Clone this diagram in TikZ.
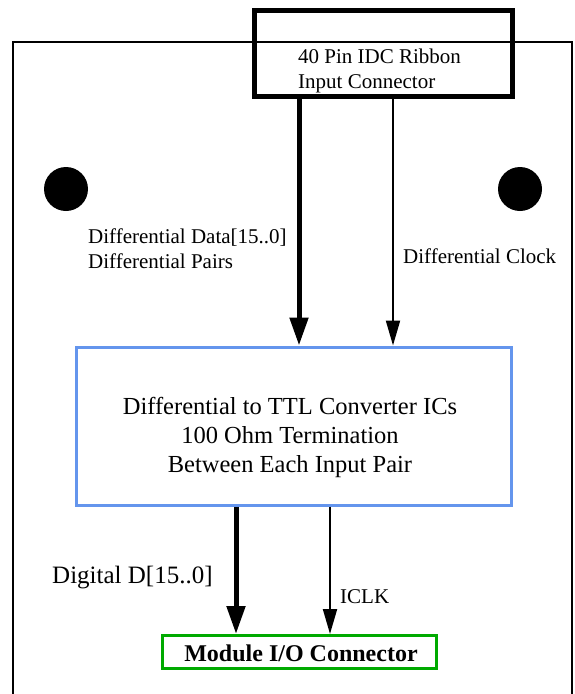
\documentclass[tikz,border=0pt]{standalone}
\usepackage{fontspec}
\setmainfont{Liberation Serif}
\usetikzlibrary{arrows.meta}
\definecolor{convblue}{RGB}{100,149,237}
\definecolor{modgreen}{RGB}{0,170,0}
\begin{document}
\begin{tikzpicture}[x=1pt,y=-1pt,
  boxnode/.style={draw, rectangle, inner sep=0pt},
  lbl/.style={inner sep=0pt, anchor=base west, align=left},
  thickarrow/.style={line width=5pt, -{Triangle[length=28pt,width=18pt]}},
  thinarrow/.style={line width=2pt, -{Triangle[length=25pt,width=14pt]}},
  hole/.style={circle, fill=black, minimum size=44pt, inner sep=0pt}]
\useasboundingbox (0,0) rectangle (574,694);
% board outline
\draw[line width=2.5pt] (13,700) -- (13,42) -- (572,42) -- (572,700);
% mounting holes
\node[hole] (h1) at (66,189) {};
\node[hole] (h2) at (520,189) {};
% connector box
\node[boxnode, line width=5pt, minimum width=258pt, minimum height=86pt] (idc) at (383,53) {};
\node[lbl, font=\fontsize{21}{24.5}\selectfont] (idct) at (298,88) {40 Pin IDC Ribbon\\Input Connector};
% converter box
\node[boxnode, draw=convblue, line width=3pt, minimum width=435pt, minimum height=158pt] (conv) at (293.5,426) {};
\node[inner sep=0pt, anchor=base, align=center, font=\fontsize{24.5}{29}\selectfont] (convt) at (290,472)
  {Differential to TTL Converter ICs\\100 Ohm Termination\\Between Each Input Pair};
% module connector
\node[boxnode, draw=modgreen, line width=3pt, minimum width=274pt, minimum height=33pt] (mod) at (299,652) {};
\node[inner sep=0pt, anchor=base, font=\fontsize{24}{28}\selectfont\bfseries] (modt) at (301,661) {Module I/O Connector};
% arrows
\draw[thickarrow] (299,0 |- idc.south) -- (299,0 |- conv.north);
\draw[thinarrow] (393,0 |- idc.south) -- (393,0 |- conv.north);
\draw[thickarrow] (236,0 |- conv.south) -- (236,0 |- mod.north);
\draw[thinarrow] (330,0 |- conv.south) -- (330,0 |- mod.north);
% labels
\node[lbl, font=\fontsize{21}{25}\selectfont] (dlab) at (88,268) {Differential Data[15..0]\\Differential Pairs};
\node[lbl, font=\fontsize{21}{25}\selectfont] (clab) at (403,263) {Differential Clock};
\node[lbl, font=\fontsize{25}{29}\selectfont] (glab) at (52,583) {Digital D[15..0]};
\node[lbl, font=\fontsize{21}{25}\selectfont] (ilab) at (340,603) {ICLK};
\end{tikzpicture}
\end{document}
